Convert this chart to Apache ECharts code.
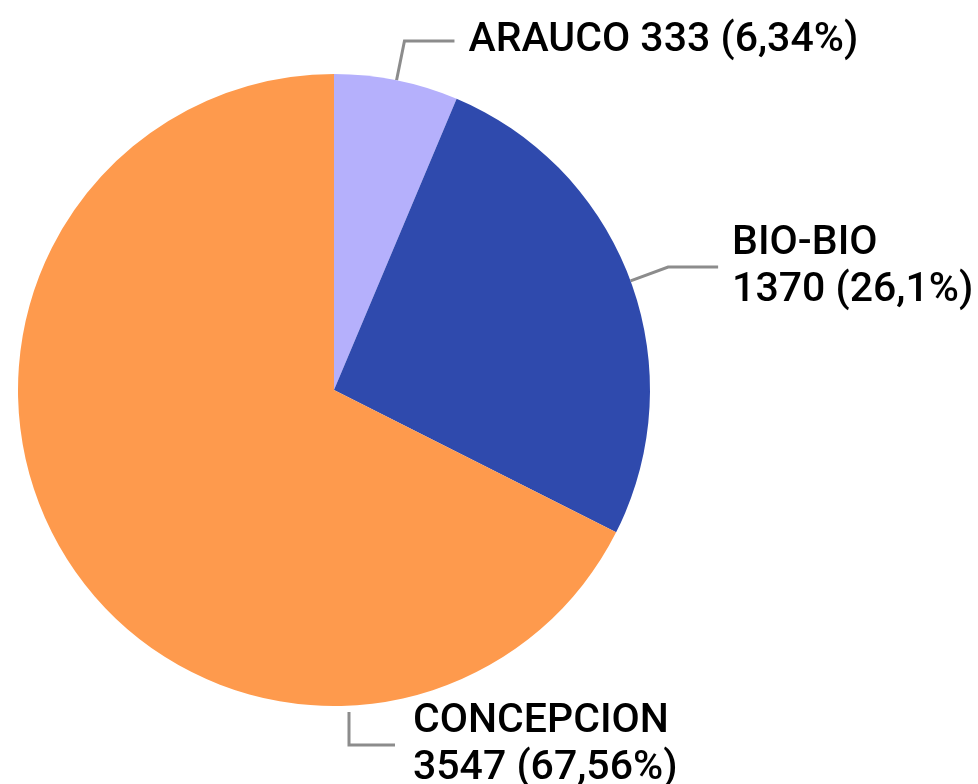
<!DOCTYPE html>
<html>
<head>
<meta charset="utf-8">
<script src="https://cdn.jsdelivr.net/npm/echarts@6/dist/echarts.min.js"></script>
<style>
  html, body { margin: 0; padding: 0; background: #fff; }
  #pie_chart { width: 978px; height: 784px; }
</style>
</head>
<body>
<div id="pie_chart"></div>
<script>
var myChart = echarts.init(document.getElementById('pie_chart'));

var names = ['ARAUCO', 'BIO-BIO', 'CONCEPCION'];
var values = [333, 1370, 3547];
var colors = ['#b5b0fc', '#2f4aad', '#fe9a4d'];

var total = values.reduce(function (a, b) { return a + b; }, 0);
var pieData = names.map(function (n, i) {
    return {name: n, value: values[i], itemStyle: {color: colors[i]}};
});

function pct(v) {
    return String(+(v / total * 100).toFixed(2)).replace('.', ',');
}

option = {
    backgroundColor: '#fff',
    series: [
        {
            type: 'pie',
            radius: 316,
            center: [334, 390],
            startAngle: 90,
            clockwise: true,
            avoidLabelOverlap: false,
            data: pieData,
            itemStyle: {borderWidth: 0},
            label: {
                show: true,
                position: 'outside',
                color: '#000',
                fontFamily: 'Roboto',
                fontWeight: 500,
                fontSize: 41,
                lineHeight: 47,
                distanceToLabelLine: 14,
                formatter: function (p) {
                    // only the short one stays on one line
                    if (p.dataIndex === 0) return p.name + ' ' + p.value + ' (' + pct(p.value) + '%)';
                    return p.name + '\n' + p.value + ' (' + pct(p.value) + '%)';
                }
            },
            labelLine: {
                show: true,
                length: 40,
                length2: 50,
                lineStyle: {color: '#8c8c8c', width: 3}
            },
            labelLayout: function (params) {
                if (params.dataIndex === 2) {
                    // bottom label sits under the pie, to the right
                    var lx = 413, ly = 745;
                    return {
                        x: lx, y: ly, align: 'left', verticalAlign: 'middle',
                        labelLinePoints: [[349, 712], [349, ly], [lx - 18, ly]]
                    };
                }
            },
            emphasis: {disabled: true}
        }
    ]
};
myChart.setOption(option);
</script>
</body>
</html>
